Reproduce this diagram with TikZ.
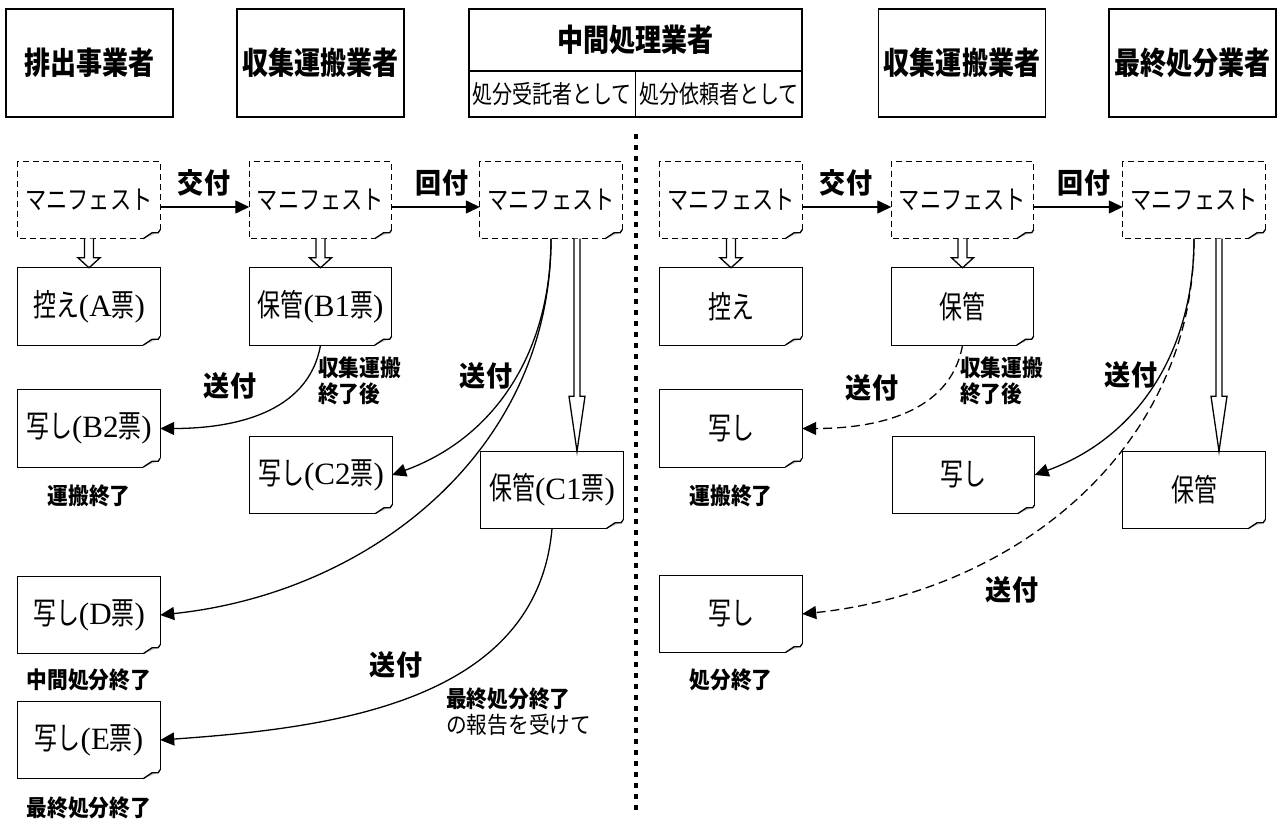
\documentclass[tikz,border=0pt]{standalone}
\usepackage{fontspec}
\usetikzlibrary{arrows.meta,calc}
\newfontfamily\jp[FakeStretch=0.74]{Noto Sans CJK JP}
\newfontfamily\jpm[FakeStretch=0.8]{Noto Sans CJK JP}
\newfontfamily\jpn[FakeStretch=0.9]{Noto Sans CJK JP}
\newfontfamily\jph[FakeStretch=0.84]{Noto Sans CJK JP}
\newfontfamily\jpw[FakeStretch=0.93]{Noto Sans CJK JP}
\newfontfamily\lser{Liberation Serif}
\newcommand\ls[1]{{\lser #1}}
\newcommand\foldbox[2]{%
  \fill[gray!40] ([xshift=-17pt]#1.south east) -- ([xshift=-8pt,yshift=6pt]#1.south east) -- ([xshift=-2pt,yshift=6pt]#1.south east) -- cycle;
  \draw[ol,#2] ([yshift=9pt]#1.south east) -- (#1.north east) -- (#1.north west) -- (#1.south west) -- ([xshift=-17pt]#1.south east);
  \draw[ol] ([xshift=-17pt]#1.south east) -- ([xshift=-8pt,yshift=6pt]#1.south east) -- ([xshift=-2pt,yshift=6pt]#1.south east) -- ([yshift=9pt]#1.south east);}
\newcommand\shortdbl[2]{%
  \draw[ol,fill=white] ([xshift=-4.5pt]#1.south) -- ([xshift=-4.5pt,yshift=10pt]#2.north) -- ([xshift=-11pt,yshift=10pt]#2.north) -- (#2.north) -- ([xshift=11pt,yshift=10pt]#2.north) -- ([xshift=4.5pt,yshift=10pt]#2.north) -- ([xshift=4.5pt]#1.south);}
\newcommand\longdbl[2]{%
  \draw[ol,fill=white] ([xshift=-3pt]#1) -- ([xshift=-3pt,yshift=55pt]#2) -- ([xshift=-8pt,yshift=55pt]#2) -- (#2) -- ([xshift=8pt,yshift=55pt]#2) -- ([xshift=3pt,yshift=55pt]#2) -- ([xshift=3pt]#1);}
\begin{document}
\begin{tikzpicture}[x=1pt,y=-1pt,
  ol/.style={line width=1.3pt},
  dl/.style={dash pattern=on 6pt off 4pt},
  hdr/.style={draw, line width=1.3pt, minimum width=167pt, minimum height=108pt, inner sep=0pt,
    font=\jph\bfseries\fontsize{31}{34}\selectfont},
  sub/.style={draw, line width=1.3pt, inner sep=0pt, font=\jpm\fontsize{25}{28}\selectfont},
  doc/.style={minimum width=142pt, minimum height=77pt, inner sep=0pt,
    font=\jp\fontsize{31}{34}\selectfont},
  man/.style={doc, font=\jpm\fontsize{26.5}{30}\selectfont},
  arr/.style={line width=1.3pt, -{Triangle[length=14pt,width=13pt]}},
  darr/.style={arr, dash pattern=on 9pt off 5pt},
  lbl/.style={inner sep=0pt, font=\jpw\bfseries\fontsize{28}{30}\selectfont},
  note/.style={inner sep=0pt, align=left, font=\jpn\bfseries\fontsize{23}{26}\selectfont},
  note2/.style={inner sep=0pt, align=left, font=\jpn\fontsize{23}{26}\selectfont}
]
\useasboundingbox[fill=white] (0,0) rectangle (1285,827);

% headers
\node[hdr] (h1) at (89.5,63) {排出事業者};
\node[hdr] (h2) at (320.5,63) {収集運搬業者};
\node[sub, minimum width=333pt, minimum height=62pt, font=\jph\bfseries\fontsize{31}{34}\selectfont] (h3) at (635.5,40) {中間処理業者};
\node[sub, minimum width=166.5pt, minimum height=46pt] (h3b) at (552.25,94) {処分受託者として};
\node[sub, minimum width=166.5pt, minimum height=46pt] (h3c) at (718.75,94) {処分依頼者として};
\node[hdr] (h4) at (962,63) {収集運搬業者};
\node[hdr] (h5) at (1192.5,63) {最終処分業者};

% separator
\coordinate (s1) at (636,134);
\coordinate (s2) at (636,816);
\draw[line width=4.5pt, dash pattern=on 4.5pt off 6.5pt] (s1) -- (s2);

% manifests
\node[man] (ma) at (89,200) {マニフェスト};
\node[man] (mb) at (320.5,200) {マニフェスト};
\node[man] (mc) at (551,200) {マニフェスト};
\node[man] (mr1) at (731,200) {マニフェスト};
\node[man] (mr2) at (962.5,200) {マニフェスト};
\node[man] (mr3) at (1194,200) {マニフェスト};

% documents left
\node[doc] (a) at (89,306.5) {控え\ls{(A}票\ls{)}};
\node[doc] (b2) at (89,428.5) {写し\ls{(B2}票\ls{)}};
\node[doc] (d) at (89,615) {写し\ls{(D}票\ls{)}};
\node[doc] (e) at (89,740) {写し\ls{(E}票\ls{)}};
\node[doc] (b1) at (320.5,306.5) {保管\ls{(B1}票\ls{)}};
\node[doc] (c2) at (321,475) {写し\ls{(C2}票\ls{)}};
\node[doc] (c1) at (552,490) {保管\ls{(C1}票\ls{)}};
% documents right
\node[doc] (ra) at (731,306.5) {控え};
\node[doc] (rb2) at (731,428.5) {写し};
\node[doc] (rd) at (731,614) {写し};
\node[doc] (rb1) at (962.5,306.5) {保管};
\node[doc] (rc2) at (963.5,475) {写し};
\node[doc] (rc1) at (1194,490) {保管};

\foreach \n in {ma,mb,mc,mr1,mr2,mr3} {\foldbox{\n}{dl}}
\foreach \n in {a,b2,d,e,b1,c2,c1,ra,rb2,rd,rb1,rc2,rc1} {\foldbox{\n}{}}

% labels under boxes
\node[note] (l1) at (89,496) {運搬終了};
\node[note] (l2) at (89,680) {中間処分終了};
\node[note] (l3) at (89,808) {最終処分終了};
\node[note] (l4) at (731,496) {運搬終了};
\node[note] (l5) at (731,680) {処分終了};

% straight arrows
\draw[arr] ([yshift=-7pt]ma.east) -- ([yshift=-7pt]mb.west);
\draw[arr] ([yshift=-7pt]mb.east) -- ([yshift=-7pt]mc.west);
\draw[arr] ([yshift=-7pt]mr1.east) -- ([yshift=-7pt]mr2.west);
\draw[arr] ([yshift=-7pt]mr2.east) -- ([yshift=-7pt]mr3.west);
\node[lbl] (t1) at (204,183) {交付};
\node[lbl] (t2) at (442,183) {回付};
\node[lbl] (t3) at (846,183) {交付};
\node[lbl] (t4) at (1084,183) {回付};

% double arrows
\shortdbl{ma}{a}
\shortdbl{mb}{b1}
\shortdbl{mr1}{ra}
\shortdbl{mr2}{rb1}
\coordinate (p1) at ([xshift=26pt]mc.south);
\coordinate (q1) at (p1 |- c1.north);
\longdbl{p1}{q1}
\coordinate (p2) at ([xshift=25pt]mr3.south);
\coordinate (q2) at (p2 |- rc1.north);
\longdbl{p2}{q2}

% curves left
\draw[arr] (b1.south) to[out=-100,in=0] (b2.east);
\draw[arr] (mc.south) to[out=-90,in=20] (c2.east);
\draw[arr] (mc.south) to[out=-90,in=6] (d.east);
\draw[arr] (c1.south) to[out=-95,in=4] (e.east);
% curves right
\draw[darr] (rb1.south) to[out=-100,in=0] (rb2.east);
\draw[arr] (mr3.south) to[out=-90,in=20] (rc2.east);
\draw[darr] (mr3.south) to[out=-90,in=6] (rd.east);

% curve labels
\node[lbl] (s1l) at (230,386) {送付};
\node[lbl] (s2l) at (486,376) {送付};
\node[lbl] (s3l) at (396,665) {送付};
\node[lbl] (s4l) at (872,388) {送付};
\node[lbl] (s5l) at (1131,375) {送付};
\node[lbl] (s6l) at (1012,590) {送付};
\node[note, anchor=north west] (n1) at (318,357) {収集運搬\\終了後};
\node[note, anchor=north west] (n2) at (960,357) {収集運搬\\終了後};
\node[note, anchor=west] (n3) at (446,699) {最終処分終了};
\node[note2, anchor=west] (n4) at (446,725) {の報告を受けて};
\end{tikzpicture}
\end{document}
